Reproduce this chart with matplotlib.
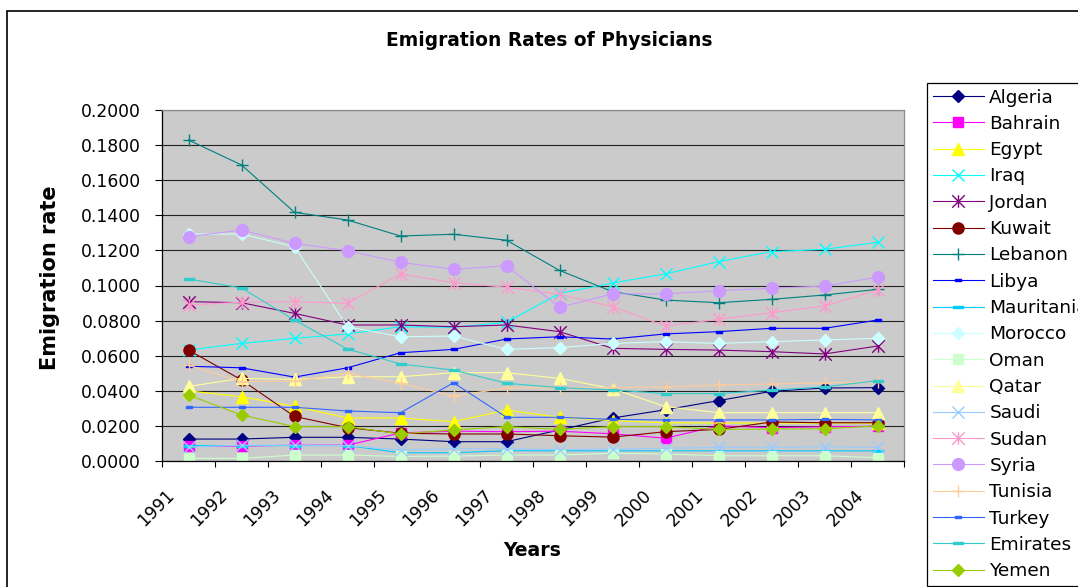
import numpy as np
import matplotlib
matplotlib.use("Agg")
import matplotlib.pyplot as plt
from matplotlib.path import Path
from matplotlib.patches import Rectangle
from matplotlib.ticker import FormatStrFormatter

plt.rcParams['font.family'] = ['DejaVu Sans']

years = ['1991', '1992', '1993', '1994', '1995', '1996', '1997',
         '1998', '1999', '2000', '2001', '2002', '2003', '2004']

algeria = [0.0125, 0.0125, 0.0135, 0.0135, 0.0125, 0.0110, 0.0110, 0.0177, 0.0245, 0.0292, 0.0344, 0.0397, 0.0416, 0.0418]
bahrain = [0.0085, 0.0085, 0.0090, 0.0090, 0.0160, 0.0170, 0.0167, 0.0170, 0.0155, 0.0130, 0.0200, 0.0190, 0.0195, 0.0198]
egypt = [0.0400, 0.0366, 0.0312, 0.0245, 0.0245, 0.0224, 0.0290, 0.0249, 0.0230, 0.0218, 0.0216, 0.0216, 0.0216, 0.0216]
iraq = [0.0632, 0.0670, 0.0699, 0.0724, 0.0765, 0.0762, 0.0790, 0.0955, 0.1014, 0.1066, 0.1136, 0.1193, 0.1206, 0.1246]
jordan = [0.0908, 0.0902, 0.0841, 0.0775, 0.0775, 0.0765, 0.0775, 0.0737, 0.0642, 0.0636, 0.0632, 0.0623, 0.0610, 0.0655]
kuwait = [0.0632, 0.0462, 0.0254, 0.0190, 0.0158, 0.0154, 0.0154, 0.0144, 0.0136, 0.0167, 0.0180, 0.0222, 0.0218, 0.0218]
lebanon = [0.1829, 0.1687, 0.1417, 0.1373, 0.1282, 0.1292, 0.1258, 0.1086, 0.0965, 0.0917, 0.0902, 0.0921, 0.0946, 0.0978]
libya = [0.0540, 0.0531, 0.0478, 0.0531, 0.0617, 0.0636, 0.0695, 0.0708, 0.0695, 0.0724, 0.0737, 0.0756, 0.0756, 0.0803]
mauritania = [0.0088, 0.0088, 0.0088, 0.0088, 0.0047, 0.0047, 0.0059, 0.0058, 0.0058, 0.0058, 0.0058, 0.0058, 0.0058, 0.0058]
morocco = [0.1293, 0.1293, 0.1221, 0.0765, 0.0708, 0.0712, 0.0636, 0.0646, 0.0670, 0.0680, 0.0670, 0.0680, 0.0690, 0.0699]
oman = [0.0015, 0.0015, 0.0034, 0.0034, 0.0026, 0.0028, 0.0034, 0.0034, 0.0044, 0.0040, 0.0030, 0.0030, 0.0030, 0.0019]
qatar = [0.0425, 0.0471, 0.0465, 0.0480, 0.0480, 0.0503, 0.0503, 0.0471, 0.0412, 0.0310, 0.0275, 0.0275, 0.0275, 0.0275]
saudi = [0.0080, 0.0090, 0.0090, 0.0088, 0.0063, 0.0070, 0.0070, 0.0065, 0.0068, 0.0072, 0.0078, 0.0078, 0.0081, 0.0078]
sudan = [0.0889, 0.0905, 0.0908, 0.0898, 0.1066, 0.1016, 0.0990, 0.0950, 0.0879, 0.0769, 0.0807, 0.0845, 0.0883, 0.0974]
syria = [0.1278, 0.1316, 0.1240, 0.1198, 0.1132, 0.1092, 0.1113, 0.0876, 0.0952, 0.0952, 0.0970, 0.0984, 0.0997, 0.1047]
tunisia = [0.0545, 0.0452, 0.0455, 0.0500, 0.0443, 0.0370, 0.0416, 0.0416, 0.0418, 0.0423, 0.0433, 0.0439, 0.0445, 0.0452]
turkey = [0.0306, 0.0306, 0.0306, 0.0285, 0.0275, 0.0446, 0.0249, 0.0249, 0.0237, 0.0234, 0.0234, 0.0234, 0.0237, 0.0234]
emirates = [0.1037, 0.0986, 0.0803, 0.0638, 0.0553, 0.0518, 0.0443, 0.0418, 0.0405, 0.0384, 0.0384, 0.0404, 0.0422, 0.0458]
yemen = [0.0376, 0.0262, 0.0196, 0.0196, 0.0154, 0.0177, 0.0196, 0.0180, 0.0196, 0.0196, 0.0180, 0.0182, 0.0184, 0.0200]

# excel-style markers: asterisk and flat dashes
star = Path([(-1, -1), (1, 1), (-1, 1), (1, -1), (0, -1), (0, 1)],
            [Path.MOVETO, Path.LINETO, Path.MOVETO, Path.LINETO, Path.MOVETO, Path.LINETO])
dash_long = Path([(-1, -0.28), (1, -0.28), (1, 0.28), (-1, 0.28), (-1, -0.28)],
                 [Path.MOVETO, Path.LINETO, Path.LINETO, Path.LINETO, Path.CLOSEPOLY])
dash_short = Path([(-1, -0.5), (1, -0.5), (1, 0.5), (-1, 0.5), (-1, -0.5)],
                  [Path.MOVETO, Path.LINETO, Path.LINETO, Path.LINETO, Path.CLOSEPOLY])

# name, values, colour, marker, marker size, filled
series = [
    ('Algeria', algeria, '#000080', 'D', 6.0, True),
    ('Bahrain', bahrain, '#FF00FF', 's', 6.5, True),
    ('Egypt', egypt, '#FFFF00', '^', 8.5, True),
    ('Iraq', iraq, '#00FFFF', 'x', 9.0, False),
    ('Jordan', jordan, '#800080', star, 9.0, False),
    ('Kuwait', kuwait, '#800000', 'o', 8.0, True),
    ('Lebanon', lebanon, '#008080', '+', 9.0, False),
    ('Libya', libya, '#0000FF', dash_short, 3.8, True),
    ('Mauritania', mauritania, '#00CCFF', dash_long, 7.2, True),
    ('Morocco', morocco, '#CCFFFF', 'D', 6.0, True),
    ('Oman', oman, '#CCFFCC', 's', 7.0, True),
    ('Qatar', qatar, '#FFFF99', '^', 8.5, True),
    ('Saudi', saudi, '#99CCFF', 'x', 9.0, False),
    ('Sudan', sudan, '#FF99CC', star, 9.0, False),
    ('Syria', syria, '#CC99FF', 'o', 8.5, True),
    ('Tunisia', tunisia, '#FFCC99', '+', 9.0, False),
    ('Turkey', turkey, '#3366FF', dash_short, 3.8, True),
    ('Emirates', emirates, '#33CCCC', dash_long, 7.2, True),
    ('Yemen', yemen, '#99CC00', 'D', 6.0, True),
]

fig = plt.figure(figsize=(10.78, 5.87), dpi=100)
ax = fig.add_axes([162 / 1078, 1 - 461 / 587, 742 / 1078, 351 / 587])
ax.set_facecolor('#CBCBCB')

x = np.arange(len(years))
for name, vals, col, mk, ms, filled in series:
    ax.plot(x, vals, color=col, lw=0.8, marker=mk, ms=ms,
            mfc=col if filled else 'none', mec=col, mew=1.0, label=name)

ax.set_xlim(-0.5, len(years) - 0.5)
ax.set_ylim(0, 0.2)
ax.set_yticks(np.arange(0, 0.2001, 0.02))
ax.yaxis.set_major_formatter(FormatStrFormatter('%.4f'))
ax.grid(axis='y', color='#222222', lw=0.8)
ax.set_axisbelow(True)

ax.set_xticks(np.arange(-0.5, len(years), 1))
ax.set_xticklabels([])
for i, yr in enumerate(years):
    ax.text(i - 0.32, -0.09, yr, transform=ax.get_xaxis_transform(),
            rotation=45, rotation_mode='anchor', ha='right', va='center',
            fontsize=12.3)

ax.tick_params(axis='y', direction='out', length=5, width=0.8, labelsize=12.3, pad=10)
ax.tick_params(axis='x', direction='out', length=4, width=0.8)
for s in ['left', 'bottom']:
    ax.spines[s].set_color('black')
    ax.spines[s].set_linewidth(0.9)
for s in ['top', 'right']:
    ax.spines[s].set_color('#8A8A8A')
    ax.spines[s].set_linewidth(0.9)

fig.text(549 / 1078, 1 - 40 / 587, 'Emigration Rates of Physicians',
         ha='center', va='center', fontsize=13.4, fontweight='bold')
fig.text(50 / 1078, 1 - 278 / 587, 'Emigration rate', rotation=90,
         ha='center', va='center', fontsize=15, fontweight='bold')
fig.text(532 / 1078, 1 - 551 / 587, 'Years',
         ha='center', va='center', fontsize=13.6, fontweight='bold')

# legend runs past the right edge of the chart area
leg = ax.legend(loc='upper left', bbox_to_anchor=(927 / 1078, 1 - 83 / 587),
                bbox_transform=fig.transFigure, borderaxespad=0,
                fontsize=13.3, handlelength=2.8, handletextpad=0.27,
                labelspacing=0.45, borderpad=0.3, numpoints=1,
                fancybox=False, framealpha=1, edgecolor='black')
leg.get_frame().set_linewidth(0.9)

# chart area border
fig.add_artist(Rectangle((7 / 1078, -0.2), 1.5, 1.2 - 11 / 587,
                         transform=fig.transFigure, fill=False,
                         edgecolor='black', lw=1.2))

fig.savefig('out.png', dpi=100)
